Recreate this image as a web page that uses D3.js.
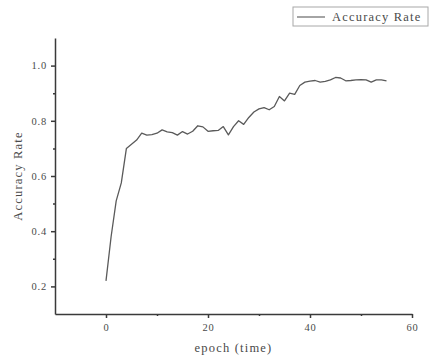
<!DOCTYPE html>
<html lang="en">
<head>
    <meta charset="UTF-8">
    <title>Accuracy Rate</title>
    <style>
        body {
            margin: 0;
            background: #fff;
        }

        svg text {
            font-family: "Liberation Serif", "DejaVu Serif", serif;
            fill: #4a4a4a;
        }
    </style>
</head>
<body>
<script src="https://cdnjs.cloudflare.com/ajax/libs/d3/7.8.5/d3.min.js"></script>
<script>
    const width = 431;
    const height = 358;

    // accuracy per epoch (epoch 0 .. 55)
    const accuracy = [
        0.22, 0.38, 0.51, 0.575, 0.70, 0.715, 0.73, 0.755, 0.748, 0.75,
        0.755, 0.767, 0.76, 0.757, 0.748, 0.761, 0.752, 0.762, 0.782, 0.778,
        0.762, 0.764, 0.765, 0.779, 0.749, 0.779, 0.80, 0.787, 0.812, 0.832,
        0.843, 0.848, 0.84, 0.852, 0.888, 0.872, 0.90, 0.896, 0.928, 0.94,
        0.944, 0.946, 0.94, 0.943, 0.948, 0.957, 0.955, 0.945, 0.946, 0.948,
        0.949, 0.948, 0.94, 0.948, 0.948, 0.945
    ];
    const xTicks = [0, 20, 40, 60];
    const xMinorTicks = [10, 30, 50];
    const yTicks = [0.2, 0.4, 0.6, 0.8, 1.0];
    const yMinorTicks = [0.3, 0.5, 0.7, 0.9];
    const seriesName = 'Accuracy Rate';
    const xTitle = 'epoch (time)';
    const yTitle = 'Accuracy Rate';

    const margin = {top: 38, right: 19, bottom: 44, left: 55};
    const COLORS = {
        axis: '#3a3a3a',
        line: '#5a5a5a',
        legendBorder: '#a8a8a8'
    };

    const x = d3.scaleLinear().domain([-10, 60]).range([margin.left, width - margin.right]);
    const y = d3.scaleLinear().domain([0.1, 1.1]).range([height - margin.bottom, margin.top]);

    const svg = d3.select('body')
        .append('svg')
        .attr('width', width)
        .attr('height', height);

    // minor ticks first, then the main axes on top
    svg.append('g')
        .attr('transform', `translate(0,${height - margin.bottom})`)
        .call(d3.axisBottom(x).tickValues(xMinorTicks).tickSize(2).tickFormat(''))
        .call(g => g.select('.domain').remove())
        .call(g => g.selectAll('line').attr('stroke', COLORS.axis).attr('stroke-width', 1.5));

    svg.append('g')
        .attr('transform', `translate(${margin.left},0)`)
        .call(d3.axisLeft(y).tickValues(yMinorTicks).tickSize(2).tickFormat(''))
        .call(g => g.select('.domain').remove())
        .call(g => g.selectAll('line').attr('stroke', COLORS.axis).attr('stroke-width', 1.5));

    const xAxis = svg.append('g')
        .attr('transform', `translate(0,${height - margin.bottom})`)
        .call(d3.axisBottom(x).tickValues(xTicks).tickSize(4).tickSizeOuter(0).tickPadding(6));

    const yAxis = svg.append('g')
        .attr('transform', `translate(${margin.left},0)`)
        .call(d3.axisLeft(y).tickValues(yTicks).tickSize(4).tickSizeOuter(0).tickPadding(4)
            .tickFormat(d3.format('.1f')));

    [xAxis, yAxis].forEach(a => {
        a.attr('font-family', null);
        a.select('.domain').attr('stroke', COLORS.axis).attr('stroke-width', 1.5);
        a.selectAll('.tick line').attr('stroke', COLORS.axis).attr('stroke-width', 1.5);
        a.selectAll('.tick text')
            .attr('font-size', 10.5)
            .attr('letter-spacing', 0.8)
            .attr('fill', '#4a4a4a');
    });

    // x title sits in the middle of the whole axis
    svg.append('text')
        .attr('x', (x.range()[0] + x.range()[1]) / 2)
        .attr('y', 352)
        .attr('text-anchor', 'middle')
        .attr('font-size', 12.5)
        .attr('letter-spacing', 1.2)
        .text(xTitle);

    svg.append('text')
        .attr('transform', `translate(22,${y(0.6)}) rotate(-90)`)
        .attr('text-anchor', 'middle')
        .attr('font-size', 12.5)
        .attr('letter-spacing', 1.2)
        .text(yTitle);

    const line = d3.line()
        .x((d, i) => x(i))
        .y(d => y(d));

    svg.append('path')
        .datum(accuracy)
        .attr('fill', 'none')
        .attr('stroke', COLORS.line)
        .attr('stroke-width', 1.3)
        .attr('stroke-linejoin', 'round')
        .attr('d', line);

    // legend
    const legend = svg.append('g').attr('transform', 'translate(293,7)');
    legend.append('rect')
        .attr('width', 135)
        .attr('height', 19)
        .attr('fill', '#fff')
        .attr('stroke', COLORS.legendBorder);
    legend.append('line')
        .attr('x1', 4).attr('x2', 32)
        .attr('y1', 10).attr('y2', 10)
        .attr('stroke', COLORS.line)
        .attr('stroke-width', 1.1);
    legend.append('text')
        .attr('x', 39)
        .attr('y', 14)
        .attr('font-size', 12.5)
        .attr('letter-spacing', 1.2)
        .text(seriesName);
</script>
</body>
</html>
